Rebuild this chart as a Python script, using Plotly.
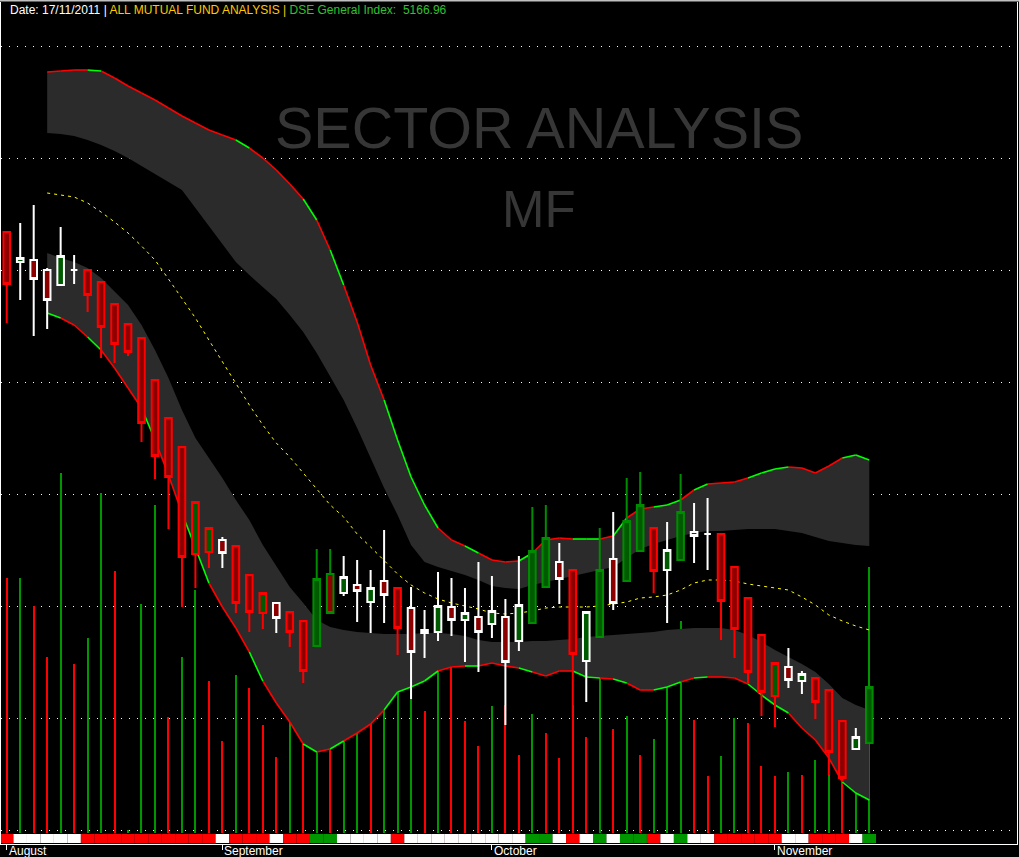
"""Mutual fund sector chart: candles, volume, envelope bands"""

import plotly.graph_objects as go

# trading day index (Aug..Nov 2011)
DAYS = list(range(65))
MONTHS = ["August", "September", "October", "November"]
MONTH_START = [0, 16, 36, 57]

OPEN = [598, 568, 570, 560, 545, 560, 560, 548, 526, 506,
        492, 450, 412, 383, 276, 278, 290, 284, 255, 217,
        227, 218, 209, 184, 256, 237, 245, 228, 249, 242,
        222, 197, 198, 223, 210, 213, 206, 213, 189, 207,
        243, 268, 260, 169, 193, 271, 249, 279, 302, 260,
        270, 298, 296, 296, 263, 232, 195, 134, 163, 149,
        152, 140, 109, 81, 87]
HIGH = [598, 607, 625, 562, 603, 575, 560, 548, 526, 506,
        492, 450, 412, 383, 328, 302, 293, 284, 255, 237,
        227, 218, 209, 281, 281, 274, 270, 260, 300, 242,
        243, 220, 258, 252, 242, 268, 254, 231, 274, 323,
        325, 287, 260, 219, 302, 318, 352, 358, 302, 308,
        356, 327, 332, 296, 263, 232, 195, 167, 182, 159,
        152, 140, 109, 102, 143]
LOW = [507, 530, 494, 501, 545, 546, 518, 472, 467, 474,
       388, 351, 301, 223, 242, 262, 262, 217, 198, 201,
       197, 183, 147, 184, 217, 234, 208, 197, 207, 175,
       131, 172, 189, 194, 168, 158, 192, 105, 179, 207,
       243, 226, 113, 128, 193, 220, 249, 279, 237, 207,
       270, 267, 260, 190, 172, 147, 114, 103, 142, 136,
       111, 55, 48, 81, 87]
CLOSE = [546, 572, 551, 530, 574, 560, 535, 503, 486, 478,
         407, 374, 353, 273, 328, 302, 277, 227, 218, 237,
         212, 198, 159, 251, 217, 253, 239, 242, 235, 202,
         178, 200, 224, 210, 217, 198, 219, 168, 225, 279,
         292, 251, 176, 218, 260, 227, 309, 325, 259, 280,
         318, 294, 296, 229, 201, 158, 138, 167, 150, 156,
         128, 78, 52, 93, 143]
# signal per day: r = sell, w = neutral, g = buy
SIGNAL = list("rwwwwwrrrr" "rrrrrrwrrr" "wrrggwwwwr" "wwwwwwwwwg"
              "gwrwgwggrw" "gwwrrrrrww" "rrrwg")

VOLUME = [255, 255, 227, 176, 360, 169, 195, 340, 262, 3,
          229, 328, 116, 176, 243, 152, 92, 158, 145, 108,
          76, 111, 108, 103, 105, 113, 118, 128, 138, 153,
          153, 122, 178, 178, 112, 87, 127, 128, 78, 119,
          100, 75, 128, 96, 168, 104, 117, 78, 94, 158,
          212, 113, 57, 77, 115, 110, 67, 57, 61, 58,
          73, 58, 53, 127, 266]
VOLUME_DIR = list("rgrrgrggrg" "ggrggrrgrr" "rgrgrggrgg" "grgrrrgrrg"
                  "rrrrgrgrgg" "grrggrrrgr" "ggrgg")

# envelope bands start on day 3
BAND_X = list(range(3, 65))
UPPER_OUTER = [758, 759, 760, 760, 759, 752, 744, 737, 730, 722,
               714, 707, 700, 695, 690, 682, 672, 660, 646, 631,
               610, 580, 545, 508, 465, 430, 390, 353, 325, 302,
               290, 284, 277, 270, 268, 269, 277, 290, 292, 291,
               291, 291, 294, 312, 321, 323, 325, 330, 340, 346,
               347, 348, 352, 357, 361, 363, 362, 357, 364, 372,
               375, 370]
UPPER_INNER = [697, 696, 694, 690, 685, 679, 672, 664, 656, 648,
               640, 622, 604, 586, 568, 555, 543, 531, 515, 498,
               477, 453, 430, 402, 372, 342, 315, 285, 268, 263,
               259, 255, 250, 244, 242, 241, 245, 248, 251, 254,
               257, 260, 263, 272, 281, 286, 290, 294, 297, 299,
               299, 300, 301, 301, 301, 299, 297, 293, 289, 287,
               285, 284]
MIDLINE = [637, 635, 633, 627, 618, 608, 597, 584, 570, 551,
           532, 512, 490, 468, 446, 425, 405, 387, 373, 357,
           341, 325, 313, 296, 283, 269, 256, 245, 237, 231,
           227, 224, 221, 217, 216, 217, 219, 222, 223, 223,
           223, 224, 226, 228, 232, 233, 235, 240, 247, 250,
           250, 249, 246, 244, 242, 240, 233, 225, 215, 209,
           204, 200]
LOWER_INNER = [577, 572, 568, 562, 552, 538, 525, 505, 480, 452,
               420, 392, 372, 352, 330, 310, 285, 264, 243, 227,
               210, 203, 200, 198, 197, 196, 196, 196, 197, 197,
               196, 194, 190, 188, 188, 188, 189, 189, 190, 191,
               193, 194, 195, 196, 197, 198, 200, 201, 202, 202,
               202, 200, 195, 188, 180, 173, 166, 158, 146, 132,
               125, 120]
LOWER_OUTER = [517, 512, 505, 493, 480, 462, 442, 422, 390, 355,
               317, 282, 247, 223, 202, 178, 149, 127, 108, 86,
               78, 81, 89, 97, 106, 120, 138, 143, 149, 159,
               163, 164, 164, 167, 164, 162, 158, 154, 159, 159,
               153, 152, 151, 147, 140, 140, 143, 148, 152, 153,
               153, 152, 146, 135, 125, 117, 102, 90, 72, 48,
               37, 30]
# colour of each envelope edge segment (day i -> i+1)
UPPER_EDGE_DIR = list("rrrgrrrrrr" "rrrrgrrrrg" "rgrrrggggr" "rgrrrgrrrg"
                      "grgrrggrgr" "rrgggrrrrg" "g")
LOWER_EDGE_DIR = list("grrgrrrgrr" "ggrrrgrrrg" "rgrrrggggr" "rgrrrgrrrg"
                      "grgrrggrgr" "rrgggrrrrg" "g")

SIGNAL_COLOURS = {"r": "#ff0000", "w": "#ffffff", "g": "#009600"}
CANDLE_BORDER = {"r": "#ff0000", "w": "#ffffff", "g": "#008c00"}
VOLUME_COLOURS = {"r": "#ff0000", "g": "#009600"}
EDGE_COLOURS = {"r": "#ff0000", "g": "#00ff00"}
BAND_FILL = "#2b2b2b"
PRICE_RANGE = [-14, 828]
VOLUME_RANGE = [-11, 831]
STRIP_BASE = -10
STRIP_HEIGHT = 9


def edge_segments(values, dirs, code):
    """Split an envelope edge into segments of one colour"""
    xs, ys = [], []
    for i, c in enumerate(dirs):
        if c == code:
            xs += [BAND_X[i], BAND_X[i + 1], None]
            ys += [values[i], values[i + 1], None]
    return xs, ys


fig = go.Figure()

# volume sticks and signal strip on the base axis
fig.add_trace(go.Bar(
    x=DAYS, y=VOLUME, width=0.08,
    marker=dict(color=[VOLUME_COLOURS[d] for d in VOLUME_DIR], line_width=0),
    hoverinfo="skip", showlegend=False,
))
fig.add_trace(go.Bar(
    x=DAYS, y=[STRIP_HEIGHT] * len(DAYS), base=STRIP_BASE, width=1,
    marker=dict(color=[SIGNAL_COLOURS[s] for s in SIGNAL], line_width=0),
    hoverinfo="skip", showlegend=False,
))

# envelope bands
for inner, outer in [(UPPER_INNER, UPPER_OUTER), (LOWER_INNER, LOWER_OUTER)]:
    fig.add_trace(go.Scatter(
        x=BAND_X, y=inner, mode="lines", line=dict(width=0),
        yaxis="y2", hoverinfo="skip", showlegend=False,
    ))
    fig.add_trace(go.Scatter(
        x=BAND_X, y=outer, mode="lines", line=dict(width=0),
        fill="tonexty", fillcolor=BAND_FILL,
        yaxis="y2", hoverinfo="skip", showlegend=False,
    ))
fig.add_trace(go.Scatter(
    x=BAND_X, y=MIDLINE, mode="lines",
    line=dict(color="#ffff00", width=1, dash="3px,4px"),
    yaxis="y2", hoverinfo="skip", showlegend=False,
))
for edge, dirs in [(UPPER_OUTER, UPPER_EDGE_DIR), (LOWER_OUTER, LOWER_EDGE_DIR)]:
    for code, colour in EDGE_COLOURS.items():
        xs, ys = edge_segments(edge, dirs, code)
        fig.add_trace(go.Scatter(
            x=xs, y=ys, mode="lines", line=dict(color=colour, width=1.6),
            yaxis="y2", hoverinfo="skip", showlegend=False,
        ))

# candles, one trace per signal colour
for code, colour in CANDLE_BORDER.items():
    idx = [i for i, s in enumerate(SIGNAL) if s == code]
    fig.add_trace(go.Candlestick(
        x=[DAYS[i] for i in idx],
        open=[OPEN[i] for i in idx],
        high=[HIGH[i] for i in idx],
        low=[LOW[i] for i in idx],
        close=[CLOSE[i] for i in idx],
        increasing=dict(fillcolor="#005a00", line=dict(color=colour, width=2)),
        decreasing=dict(fillcolor="#8c0000", line=dict(color=colour, width=2)),
        yaxis="y3", hoverinfo="skip", showlegend=False,
    ))

fig.update_layout(
    width=1019,
    height=857,
    margin=dict(l=1, r=2, t=2, b=13, pad=0),
    paper_bgcolor="black",
    plot_bgcolor="black",
    barmode="overlay",
    font=dict(family="Liberation Sans", color="white"),
    xaxis=dict(
        range=[-0.426, 74.96], showgrid=False, zeroline=False,
        showline=True, linecolor="white", linewidth=1,
        tickvals=MONTH_START, ticks="outside", ticklen=5, tickcolor="white",
        showticklabels=False, rangeslider=dict(visible=False), fixedrange=True,
    ),
    yaxis=dict(
        range=VOLUME_RANGE, showgrid=False, zeroline=False, showticklabels=False,
        showline=True, mirror=True, linecolor="white", linewidth=1,
    ),
    yaxis2=dict(
        range=PRICE_RANGE, overlaying="y", anchor="x", zeroline=False,
        showticklabels=False, showgrid=True, tick0=0, dtick=112,
        gridcolor="white", gridwidth=1, griddash="1px,7px",
    ),
    yaxis3=dict(
        range=PRICE_RANGE, overlaying="y", anchor="x", zeroline=False,
        showticklabels=False, showgrid=False,
    ),
)

for month, start in zip(MONTHS, MONTH_START):
    fig.add_annotation(
        x=start, xref="x", y=0, yref="paper", yanchor="top", xanchor="left",
        text=month, showarrow=False, xshift=1, yshift=1, borderpad=0,
        font=dict(size=12, color="white"),
    )

fig.add_annotation(
    x=0.007, xref="paper", y=0.9905, yref="paper", xanchor="left", yanchor="middle",
    text="Date: 17/11/2011 | <span style='color:#ffc800'>ALL MUTUAL FUND ANALYSIS | </span>"
         "<span style='color:#30c030'>DSE General Index:&nbsp; 5166.96</span>",
    showarrow=False, font=dict(size=12, color="white"),
)
fig.add_annotation(
    x=0.5295, xref="paper", y=0.850, yref="paper", xanchor="center", yanchor="middle",
    text="SECTOR ANALYSIS", showarrow=False,
    font=dict(size=57.5, color="#363636"),
)
fig.add_annotation(
    x=0.5295, xref="paper", y=0.753, yref="paper", xanchor="center", yanchor="middle",
    text="MF", showarrow=False,
    font=dict(size=51, color="#363636"),
)
fig.add_shape(
    type="line", xref="paper", yref="paper", x0=-0.01, x1=1.01, y0=1.0018, y1=1.0018,
    line=dict(color="#c0c0c0", width=2),
)

fig.write_html(
    "out.html",
    config={"displayModeBar": False},
    post_script="document.body.style.margin = '0';",
)
